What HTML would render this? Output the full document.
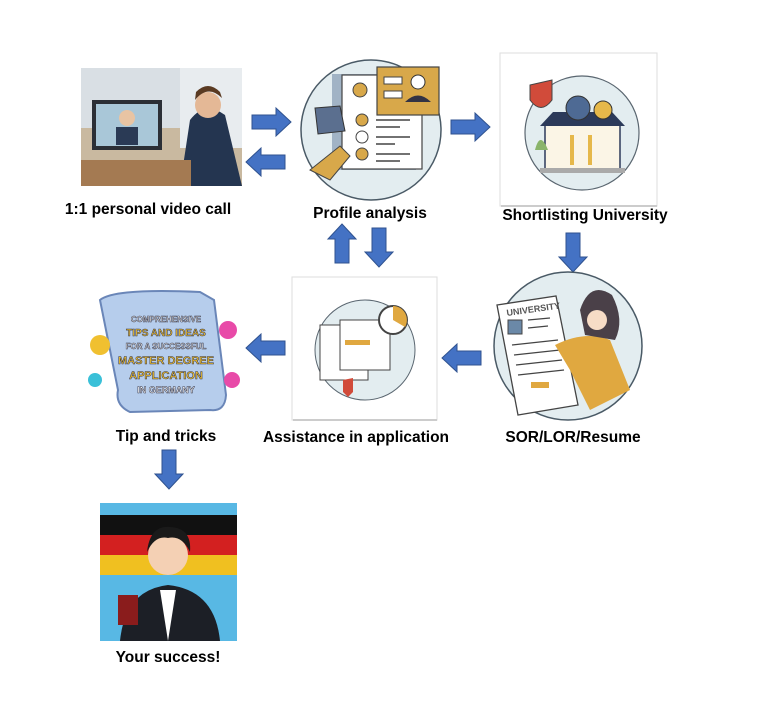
<!DOCTYPE html>
<html><head><style>
body{margin:0;width:768px;height:720px;background:#fff;position:relative;overflow:hidden;font-family:"Liberation Sans",sans-serif}
.abs{position:absolute}
.lbl{position:absolute;font-weight:bold;font-size:15.5px;color:#000;white-space:nowrap;transform:translateX(-50%)}
</style></head><body>
<svg class="abs" style="left:0;top:0" width="768" height="720">
<defs>
<g id="ar"><polygon points="0,7 24,7 24,0 39,14 24,28 24,21 0,21" fill="#4472C4" stroke="#2F528F" stroke-width="1"/></g>
</defs>
<!-- video call image -->
<rect x="81" y="68" width="161" height="118" fill="#c9b9a0"/>
<rect x="81" y="68" width="161" height="60" fill="#d9dfe4"/>
<rect x="180" y="68" width="62" height="80" fill="#e8ecef"/>
<rect x="92" y="100" width="70" height="50" fill="#2b2f36"/>
<rect x="96" y="104" width="62" height="42" fill="#a9c7d8"/>
<circle cx="127" cy="118" r="8" fill="#e8c4a3"/>
<rect x="116" y="127" width="22" height="18" fill="#2a3a55"/>
<path d="M180,186 L190,120 Q205,100 225,115 L242,186Z" fill="#243550"/>
<circle cx="208" cy="105" r="13" fill="#e4b896"/>
<path d="M195,100 Q208,84 222,98 L220,92 Q208,80 196,92Z" fill="#5a3a22"/>
<rect x="81" y="160" width="110" height="26" fill="#a47a52"/>
<!-- profile circle -->
<circle cx="371" cy="130" r="70" fill="#e3edf0" stroke="#4a5a66" stroke-width="1.5"/>
<rect x="332" y="74" width="84" height="96" fill="#5f7a9a" opacity=".5"/>
<rect x="342" y="75" width="80" height="94" fill="#fff" stroke="#444" stroke-width="1.2"/>
<rect x="377" y="67" width="62" height="48" fill="#d8a84a" stroke="#444" stroke-width="1.2"/>
<rect x="384" y="77" width="18" height="7" fill="#fff" stroke="#444"/>
<rect x="384" y="91" width="18" height="7" fill="#fff" stroke="#444"/>
<circle cx="418" cy="82" r="7" fill="#fff" stroke="#333"/>
<path d="M405,102 Q418,89 431,102Z" fill="#334" />
<circle cx="360" cy="90" r="7" fill="#d8a84a" stroke="#444"/>
<circle cx="362" cy="120" r="6" fill="#d8a84a" stroke="#444"/>
<circle cx="362" cy="137" r="6" fill="#fff" stroke="#444"/>
<circle cx="362" cy="154" r="6" fill="#d8a84a" stroke="#444"/>
<g stroke="#444" stroke-width="1.5"><line x1="376" y1="120" x2="410" y2="120"/><line x1="376" y1="127" x2="400" y2="127"/><line x1="376" y1="137" x2="410" y2="137"/><line x1="376" y1="144" x2="395" y2="144"/><line x1="376" y1="154" x2="410" y2="154"/><line x1="376" y1="161" x2="400" y2="161"/></g>
<polygon points="315,108 340,106 345,131 318,134" fill="#5b6f8f" stroke="#333"/>
<path d="M310,170 L340,146 L350,156 L330,180Z" fill="#d8a84a" stroke="#444"/>
<!-- arrows -->
<use href="#ar" transform="translate(252,108)"/>
<use href="#ar" transform="translate(285,176) rotate(180)"/>
<use href="#ar" transform="translate(451,113)"/>
<use href="#ar" transform="translate(328,263) rotate(-90)"/>
<use href="#ar" transform="translate(393,228) rotate(90)"/>
<use href="#ar" transform="translate(587,233) rotate(90)"/>
<use href="#ar" transform="translate(481,372) rotate(180)"/>
<use href="#ar" transform="translate(285,362) rotate(180)"/>
<use href="#ar" transform="translate(183,450) rotate(90)"/>
<!-- shortlisting -->
<rect x="500" y="53" width="157" height="153" fill="#fff" stroke="#ddd" stroke-width="1"/>
<rect x="501" y="205" width="156" height="2" fill="#ccc"/>
<circle cx="582" cy="133" r="57" fill="#e3edf0" stroke="#5a6670" stroke-width="1.2"/>
<path d="M530,85 L552,80 L552,100 Q541,115 530,100Z" fill="#d14b3a" stroke="#444"/>
<rect x="545" y="125" width="75" height="45" fill="#fbf5e6" stroke="#2c3a5a" stroke-width="1.5"/>
<polygon points="540,126 625,126 612,112 553,112" fill="#2c3a5a"/>
<circle cx="578" cy="108" r="12" fill="#4e6a94" stroke="#333"/>
<circle cx="603" cy="110" r="9" fill="#e6b84a" stroke="#333"/>
<rect x="570" y="135" width="4" height="30" fill="#e6b84a"/><rect x="588" y="135" width="4" height="30" fill="#e6b84a"/>
<rect x="540" y="168" width="85" height="5" fill="#aaa"/>
<path d="M535,150 Q540,130 548,150Z" fill="#8ab46a"/>
<!-- SOR circle -->
<circle cx="568" cy="346" r="74" fill="#e3edf0" stroke="#4a5a66" stroke-width="1.5"/>
<polygon points="497,305 556,296 578,405 518,415" fill="#fff" stroke="#444" stroke-width="1.3"/>
<rect x="508" y="320" width="14" height="14" fill="#6b89a8" stroke="#444"/>
<g stroke="#444" stroke-width="1.3"><line x1="528" y1="320" x2="550" y2="318"/><line x1="528" y1="328" x2="548" y2="326"/><line x1="512" y1="345" x2="558" y2="340"/><line x1="514" y1="355" x2="560" y2="350"/><line x1="516" y1="365" x2="562" y2="360"/><line x1="518" y1="375" x2="564" y2="370"/></g>
<rect x="531" y="382" width="18" height="6" fill="#e0a840"/>
<path d="M555,345 Q585,330 610,340 L630,390 L590,410 L570,370Z" fill="#e0a840"/>
<path d="M580,310 Q590,280 612,295 Q625,320 615,340 L585,335Z" fill="#4a4048"/>
<circle cx="597" cy="320" r="10" fill="#f7dcc6"/>
<text x="507" y="316" font-size="9" font-weight="bold" fill="#555" font-family="Liberation Sans" transform="rotate(-8 507 316)">UNIVERSITY</text>
<!-- assistance -->
<rect x="292" y="277" width="145" height="143" fill="#fff" stroke="#ddd"/>
<rect x="293" y="419" width="144" height="2" fill="#ccc"/>
<circle cx="365" cy="350" r="50" fill="#e3edf0" stroke="#5a6670"/>
<rect x="320" y="325" width="48" height="55" fill="#fff" stroke="#444"/>
<rect x="340" y="320" width="50" height="50" fill="#fff" stroke="#444"/>
<rect x="345" y="340" width="25" height="5" fill="#e0a840"/>
<circle cx="393" cy="320" r="14" fill="#fff" stroke="#444" stroke-width="2"/>
<path d="M393,320 L393,306 A14,14 0 0,1 405,327Z" fill="#e0a840"/>
<path d="M343,380 L353,378 L353,392 L348,397 L343,392Z" fill="#d14b3a"/>
<!-- tips -->
<path d="M100,300 Q115,288 200,292 L214,300 L226,395 Q225,412 210,410 L130,412 Q115,405 118,390Z" fill="#b6cdec" stroke="#6a86b8" stroke-width="2"/>
<circle cx="100" cy="345" r="10" fill="#f0c030"/><circle cx="228" cy="330" r="9" fill="#e84aa8"/><circle cx="95" cy="380" r="7" fill="#3ac0d8"/><circle cx="232" cy="380" r="8" fill="#e84aa8"/>
<g font-family="Liberation Sans" font-weight="bold" text-anchor="middle">
<text x="166" y="322" font-size="8" fill="#fff" stroke="#334" stroke-width=".5">COMPREHENSIVE</text>
<text x="166" y="336" font-size="10" fill="#f0c030" stroke="#334" stroke-width=".5">TIPS AND IDEAS</text>
<text x="166" y="349" font-size="8" fill="#fff" stroke="#334" stroke-width=".5">FOR A SUCCESSFUL</text>
<text x="166" y="364" font-size="11" fill="#f0c030" stroke="#334" stroke-width=".5">MASTER DEGREE</text>
<text x="166" y="379" font-size="11" fill="#f0c030" stroke="#334" stroke-width=".5">APPLICATION</text>
<text x="166" y="393" font-size="9" fill="#fff" stroke="#334" stroke-width=".5">IN GERMANY</text>
</g>
<!-- success -->
<rect x="100" y="503" width="137" height="138" fill="#58b8e4"/>
<rect x="100" y="515" width="137" height="20" fill="#111"/>
<rect x="100" y="535" width="137" height="20" fill="#d32020"/>
<rect x="100" y="555" width="137" height="20" fill="#f0c020"/>
<path d="M120,641 Q125,590 168,585 Q215,590 220,641Z" fill="#1c1f26"/>
<polygon points="160,590 176,590 168,641" fill="#fff"/>
<circle cx="168" cy="555" r="20" fill="#f4d0b4"/>
<path d="M147,552 Q150,525 170,527 Q192,528 190,552 Q182,535 168,538 Q155,535 147,552Z" fill="#1a1a1a"/>
<rect x="118" y="595" width="20" height="30" fill="#8a1c1c"/>
</svg>
<div class="lbl" style="left:148px;top:201px">1:1 personal video call</div>
<div class="lbl" style="left:370px;top:205px">Profile analysis</div>
<div class="lbl" style="left:585px;top:207px">Shortlisting University</div>
<div class="lbl" style="left:166px;top:428px">Tip and tricks</div>
<div class="lbl" style="left:356px;top:429px">Assistance in application</div>
<div class="lbl" style="left:573px;top:429px">SOR/LOR/Resume</div>
<div class="lbl" style="left:168px;top:649px">Your success!</div>
</body></html>
